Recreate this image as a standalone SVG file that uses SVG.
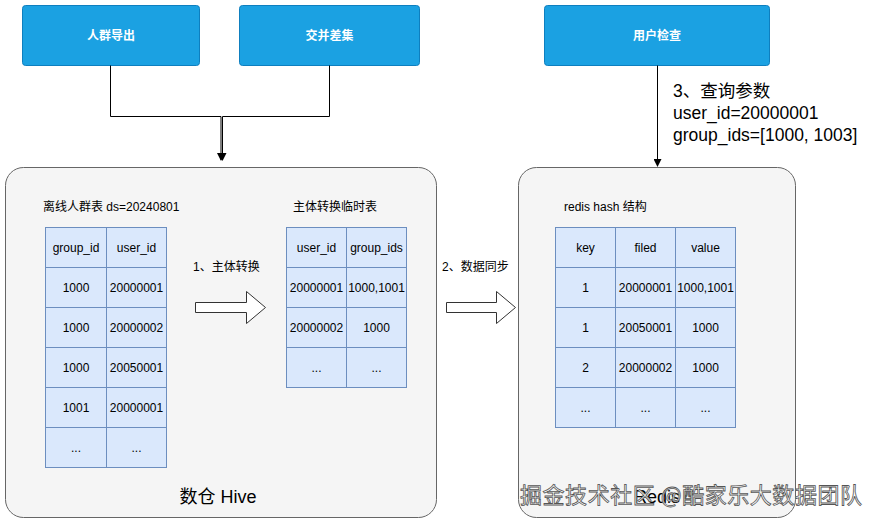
<svg xmlns="http://www.w3.org/2000/svg" width="878" height="523" viewBox="0 0 878 523">
<style>
text{font-family:"Liberation Sans","Noto Sans CJK SC",Arial,sans-serif;}
.btn{fill:#1ba1e2;stroke:#0e7fbf;stroke-width:1;}
.btxt{fill:#ffffff;font-size:12px;font-weight:bold;text-anchor:middle;}
.cont{fill:#f5f5f5;stroke:#666666;stroke-width:1;}
.cell{fill:#dae8fc;stroke:#6c8ebf;stroke-width:1;}
.t12{fill:#000;font-size:12px;}
.c12{fill:#000;font-size:12px;text-anchor:middle;}
.big{fill:#000;font-size:18px;text-anchor:middle;}
.lbl{fill:#000;font-size:17.5px;}
.conn{fill:none;stroke:#000;stroke-width:1;}
.barrow{fill:#ffffff;stroke:#333;stroke-width:1;}
.wm{fill:#ffffff;stroke:#555;stroke-width:0.8;font-size:22px;font-family:"Noto Sans CJK SC","Liberation Sans",sans-serif;}
</style>
<defs>
<marker id="ah" markerWidth="8" markerHeight="8" refX="7" refY="4" orient="auto" markerUnits="userSpaceOnUse">
<path d="M0,0 L8,4 L0,8 Z" fill="#000"/>
</marker>
</defs>

<g id="hive">
<rect class="cont" x="5.5" y="167.5" width="431" height="350" rx="18"/>
<text class="big" x="218" y="503">数仓 Hive</text>
</g>
<g id="redis">
<rect class="cont" x="518.5" y="167.5" width="277" height="350" rx="18"/>
<text class="big" x="657" y="503">Redis</text>
</g>

<g id="n-export">
<rect class="btn" x="22.5" y="5.5" width="177" height="60" rx="3"/>
<text class="btxt" x="111" y="40">人群导出</text>
</g>
<g id="n-setop">
<rect class="btn" x="239.5" y="5.5" width="180" height="60" rx="3"/>
<text class="btxt" x="329.5" y="40">交并差集</text>
</g>
<g id="n-check">
<rect class="btn" x="544.5" y="5.5" width="225" height="60" rx="3"/>
<text class="btxt" x="657" y="40">用户检查</text>
</g>

<g id="connectors">
<path class="conn" d="M110.5,65.5 V116.5 H221 V160" marker-end="url(#ah)"/>
<path class="conn" d="M329.5,65.5 V116.5 H222.5 V160" marker-end="url(#ah)"/>
<path class="conn" d="M657.5,65.5 V166" marker-end="url(#ah)"/>
<path class="barrow" d="M195.5,302.5 H246.5 V291.5 L265.5,307.5 L246.5,323.5 V312.5 H195.5 Z"/>
<path class="barrow" d="M446.5,302.5 H496.5 V291.5 L515.5,307.5 L496.5,323.5 V312.5 H446.5 Z"/>
<text class="t12" x="193" y="271">1、主体转换</text>
<text class="t12" x="442" y="271">2、数据同步</text>
<text class="lbl" x="673" y="97">3、查询参数</text>
<text class="lbl" x="673" y="119">user_id=20000001</text>
<text class="lbl" x="673" y="140.5">group_ids=[1000, 1003]</text>
</g>

<g id="t-offline">
<text class="t12" x="43" y="211">离线人群表 ds=20240801</text>
<rect class="cell" x="45.5" y="227.5" width="61" height="40"/><rect class="cell" x="106.5" y="227.5" width="60" height="40"/>
<rect class="cell" x="45.5" y="267.5" width="61" height="40"/><rect class="cell" x="106.5" y="267.5" width="60" height="40"/>
<rect class="cell" x="45.5" y="307.5" width="61" height="40"/><rect class="cell" x="106.5" y="307.5" width="60" height="40"/>
<rect class="cell" x="45.5" y="347.5" width="61" height="40"/><rect class="cell" x="106.5" y="347.5" width="60" height="40"/>
<rect class="cell" x="45.5" y="387.5" width="61" height="40"/><rect class="cell" x="106.5" y="387.5" width="60" height="40"/>
<rect class="cell" x="45.5" y="427.5" width="61" height="40"/><rect class="cell" x="106.5" y="427.5" width="60" height="40"/>
<text class="c12" x="76" y="251.5">group_id</text><text class="c12" x="136.5" y="251.5">user_id</text>
<text class="c12" x="76" y="291.5">1000</text><text class="c12" x="136.5" y="291.5">20000001</text>
<text class="c12" x="76" y="331.5">1000</text><text class="c12" x="136.5" y="331.5">20000002</text>
<text class="c12" x="76" y="371.5">1000</text><text class="c12" x="136.5" y="371.5">20050001</text>
<text class="c12" x="76" y="411.5">1001</text><text class="c12" x="136.5" y="411.5">20000001</text>
<text class="c12" x="76" y="451.5">...</text><text class="c12" x="136.5" y="451.5">...</text>
</g>

<g id="t-temp">
<text class="t12" x="293" y="211">主体转换临时表</text>
<rect class="cell" x="286.5" y="227.5" width="60" height="40"/><rect class="cell" x="346.5" y="227.5" width="60" height="40"/>
<rect class="cell" x="286.5" y="267.5" width="60" height="40"/><rect class="cell" x="346.5" y="267.5" width="60" height="40"/>
<rect class="cell" x="286.5" y="307.5" width="60" height="40"/><rect class="cell" x="346.5" y="307.5" width="60" height="40"/>
<rect class="cell" x="286.5" y="347.5" width="60" height="40"/><rect class="cell" x="346.5" y="347.5" width="60" height="40"/>
<text class="c12" x="316.5" y="251.5">user_id</text><text class="c12" x="376.5" y="251.5">group_ids</text>
<text class="c12" x="316.5" y="291.5">20000001</text><text class="c12" x="376.5" y="291.5">1000,1001</text>
<text class="c12" x="316.5" y="331.5">20000002</text><text class="c12" x="376.5" y="331.5">1000</text>
<text class="c12" x="316.5" y="371.5">...</text><text class="c12" x="376.5" y="371.5">...</text>
</g>

<g id="t-redis">
<text class="t12" x="564" y="211">redis hash 结构</text>
<rect class="cell" x="555.5" y="227.5" width="60" height="40"/><rect class="cell" x="615.5" y="227.5" width="60" height="40"/><rect class="cell" x="675.5" y="227.5" width="60" height="40"/>
<rect class="cell" x="555.5" y="267.5" width="60" height="40"/><rect class="cell" x="615.5" y="267.5" width="60" height="40"/><rect class="cell" x="675.5" y="267.5" width="60" height="40"/>
<rect class="cell" x="555.5" y="307.5" width="60" height="40"/><rect class="cell" x="615.5" y="307.5" width="60" height="40"/><rect class="cell" x="675.5" y="307.5" width="60" height="40"/>
<rect class="cell" x="555.5" y="347.5" width="60" height="40"/><rect class="cell" x="615.5" y="347.5" width="60" height="40"/><rect class="cell" x="675.5" y="347.5" width="60" height="40"/>
<rect class="cell" x="555.5" y="387.5" width="60" height="40"/><rect class="cell" x="615.5" y="387.5" width="60" height="40"/><rect class="cell" x="675.5" y="387.5" width="60" height="40"/>
<text class="c12" x="585.5" y="251.5">key</text><text class="c12" x="645.5" y="251.5">filed</text><text class="c12" x="705.5" y="251.5">value</text>
<text class="c12" x="585.5" y="291.5">1</text><text class="c12" x="645.5" y="291.5">20000001</text><text class="c12" x="705.5" y="291.5">1000,1001</text>
<text class="c12" x="585.5" y="331.5">1</text><text class="c12" x="645.5" y="331.5">20050001</text><text class="c12" x="705.5" y="331.5">1000</text>
<text class="c12" x="585.5" y="371.5">2</text><text class="c12" x="645.5" y="371.5">20000002</text><text class="c12" x="705.5" y="371.5">1000</text>
<text class="c12" x="585.5" y="411.5">...</text><text class="c12" x="645.5" y="411.5">...</text><text class="c12" x="705.5" y="411.5">...</text>
</g>

<text class="wm" x="520" y="503" textLength="342" lengthAdjust="spacing">掘金技术社区 @酷家乐大数据团队</text>
</svg>
